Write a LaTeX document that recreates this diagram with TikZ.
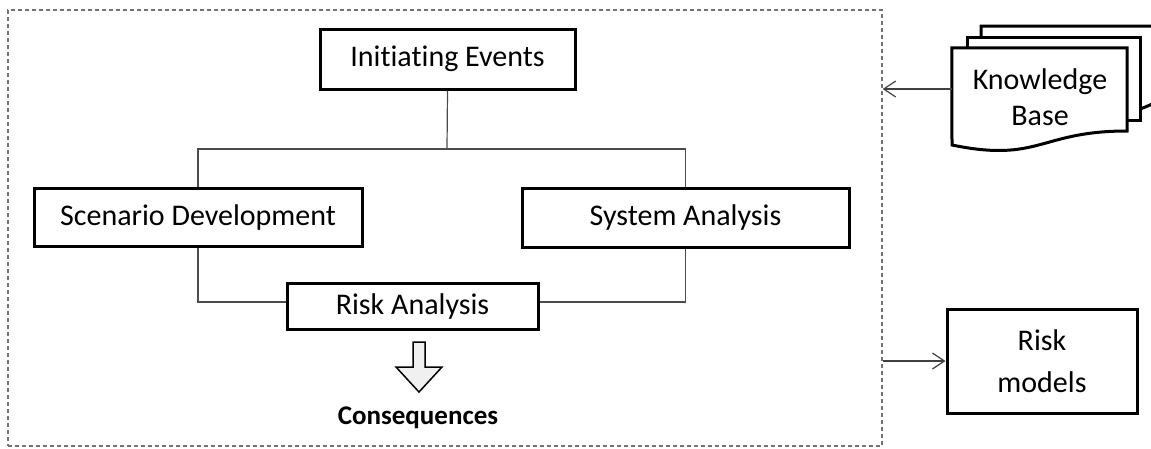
\documentclass[tikz,border=0pt]{standalone}
\usepackage{fontspec}
\setmainfont{Carlito}[Ligatures=NoCommon]
\usetikzlibrary{arrows.meta}
\tikzset{
  box/.style={draw=black, line width=3pt, rectangle, inner sep=0pt, align=center, font=\fontsize{30}{36}\selectfont},
  conn/.style={draw=black!70, line width=1.2pt},
  arr/.style={draw=black!75, line width=1.2pt, -{Straight Barb[length=12pt,width=16pt,line width=1.2pt]}},
  doc/.style={draw=black, line width=3pt, fill=white, line join=miter},
  frame/.style={draw=black!55, line width=1.3pt, dash pattern=on 4pt off 3pt, rectangle, inner sep=0pt}
}
\begin{document}
\begin{tikzpicture}[x=1pt,y=-1pt]
\useasboundingbox[fill=white] (0,0) rectangle (1151,448);
% dashed frame
\node[frame, minimum width=874pt, minimum height=436pt] (fr) at (445,228) {};
% boxes
\node[box, minimum width=255pt, minimum height=60pt] (ie) at (447.5,59) {Initiating Events};
\node[box, minimum width=328pt, minimum height=58pt] (sd) at (198,217) {Scenario Development};
\node[box, minimum width=327pt, minimum height=59pt] (sa) at (685.5,217.5) {System Analysis};
\node[box, minimum width=251pt, minimum height=46pt] (ra) at (412.5,306) {Risk Analysis};
\node[box, minimum width=190pt, minimum height=104pt, font=\fontsize{30}{42}\selectfont] (rm) at (1042,361) {Risk\\models};
% connectors
\coordinate (split) at (447,149);
\draw[conn] (ie.south) -- (split);
\draw[conn] (sd.north) |- (split) -| (sa.north);
\draw[conn] (sd.south) |- ([yshift=4pt]ra.west);
\draw[conn] (sa.south) |- ([yshift=4pt]ra.east);
% block arrow
\draw[black, line width=1.5pt, fill=black!6, line join=miter]
  (413,342) -- (425,342) -- (425,367) -- (442,367) -- (419,392) -- (396,367) -- (413,367) -- cycle;
\node[font=\bfseries\fontsize{27}{32}\selectfont, inner sep=0pt] (cq) at (418,418) {Consequences};
% knowledge base multidocument
\draw[doc] (981,26) -- (1154,26) -- (1154,103) .. controls (1148,106) .. (1140,109) -- (981,109) -- cycle;
\draw[doc] (967,37) -- (1140,37) -- (1140,120) -- (967,120) -- cycle;
\node[inner sep=0pt, minimum width=175pt, minimum height=104pt] (kbf) at (1039.5,100) {};
\draw[doc] (kbf.north west) -- (kbf.north east) -- (1127,131)
  .. controls (1039.5,131) and (1039.5,163) .. (952,145) -- cycle;
\node[align=center, inner sep=0pt, font=\fontsize{30}{36}\selectfont] (kb) at (1040,97) {Knowledge\\Base};
% external arrows
\coordinate (kbport) at (952,89);
\draw[arr] (kbport) -- (kbport -| fr.east);
\coordinate (rmport) at (rm.west);
\draw[arr] (rmport -| fr.east) -- (rm.west);
\end{tikzpicture}
\end{document}
